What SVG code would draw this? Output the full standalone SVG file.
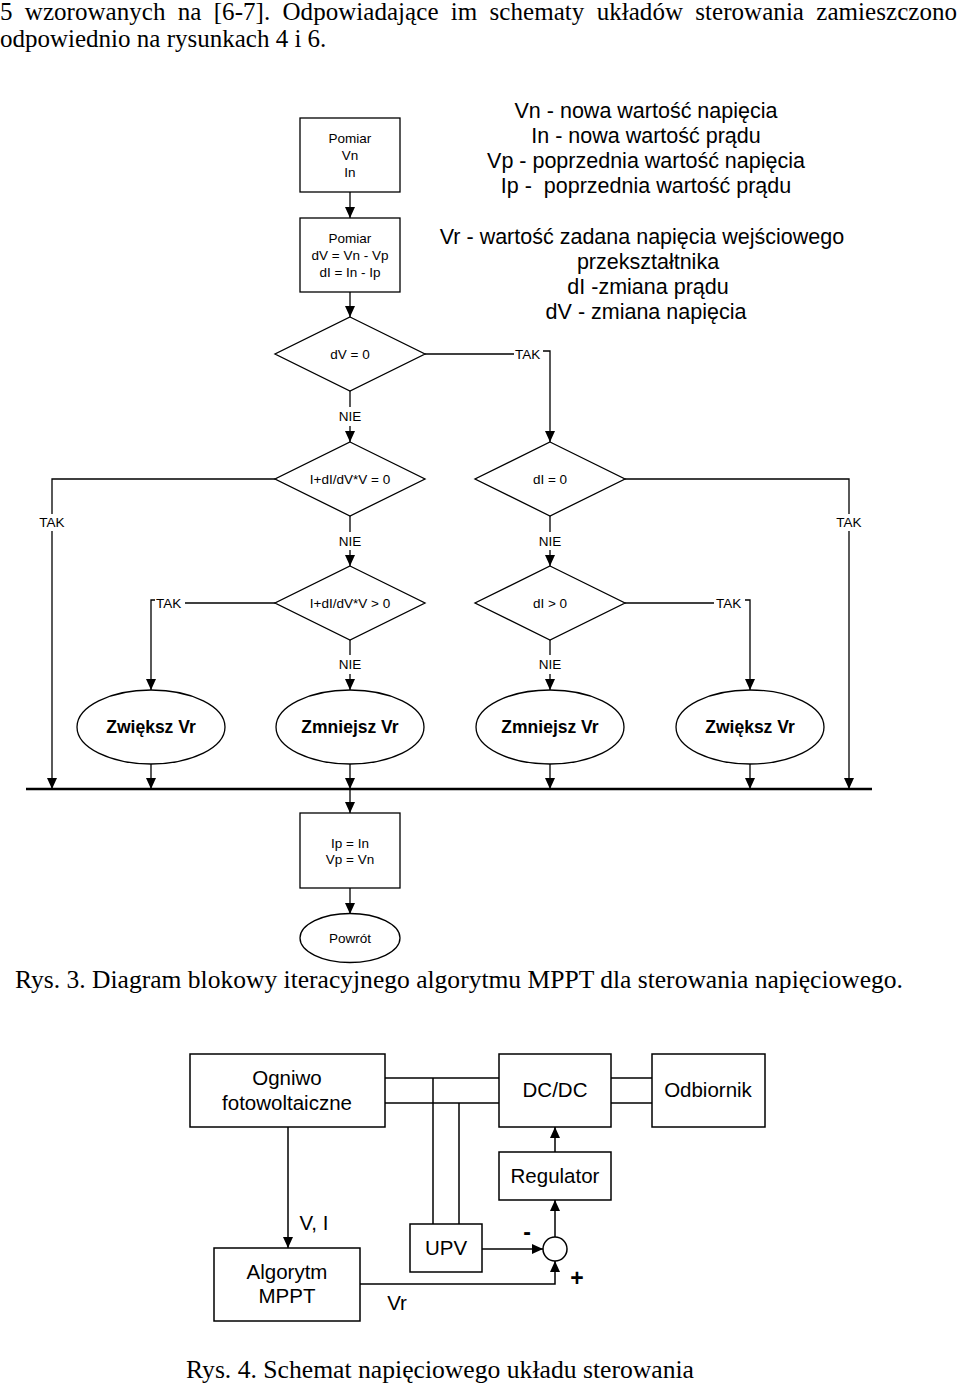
<svg xmlns="http://www.w3.org/2000/svg" width="960" height="1387" viewBox="0 0 960 1387">
<defs>
<style>
.ln{fill:none;stroke:#000;stroke-width:1.3}
.lb{fill:none;stroke:#000;stroke-width:1.5}
.sh{fill:#fff;stroke:#000;stroke-width:1.3}
.shb{fill:#fff;stroke:#000;stroke-width:1.5}
.t{font-family:"Liberation Sans",Arial,sans-serif;font-size:13.5px;text-anchor:middle;fill:#000}
.tl{font-family:"Liberation Sans",Arial,sans-serif;font-size:13.5px;fill:#000}
.tb{font-family:"Liberation Sans",Arial,sans-serif;font-size:17.5px;font-weight:bold;text-anchor:middle;fill:#000}
.lg{font-family:"Liberation Sans",Arial,sans-serif;font-size:21.5px;text-anchor:middle;fill:#000}
.bd{font-family:"Liberation Sans",Arial,sans-serif;font-size:20.5px;text-anchor:middle;fill:#000}
.sg{font-family:"Liberation Sans",Arial,sans-serif;font-size:23px;font-weight:bold;text-anchor:middle;fill:#000}
.sf{font-family:"Liberation Serif","Times New Roman",serif;font-size:25px;fill:#000}
</style>
<marker id="ah" markerWidth="11" markerHeight="10" refX="11" refY="5" orient="auto" markerUnits="userSpaceOnUse">
<path d="M0,0 L11,5 L0,10 z" fill="#000"/>
</marker>
</defs>
<rect width="960" height="1387" fill="#fff"/>

<!-- header text -->
<text class="sf" x="0" y="20" textLength="957" lengthAdjust="spacing" word-spacing="6">5 wzorowanych na [6-7]. Odpowiadające im schematy układów sterowania zamieszczono</text>
<text class="sf" x="0" y="47">odpowiednio na rysunkach 4 i 6.</text>

<!-- legend -->
<g id="legend">
<text class="lg" x="646" y="118">Vn - nowa wartość napięcia</text>
<text class="lg" x="646" y="143">In - nowa wartość prądu</text>
<text class="lg" x="646" y="168">Vp - poprzednia wartość napięcia</text>
<text class="lg" x="646" y="193" xml:space="preserve">Ip -  poprzednia wartość prądu</text>
<text class="lg" x="642" y="244">Vr - wartość zadana napięcia wejściowego</text>
<text class="lg" x="648" y="269">przekształtnika</text>
<text class="lg" x="648" y="294">dI -zmiana prądu</text>
<text class="lg" x="646" y="319">dV - zmiana napięcia</text>
</g>

<!-- flowchart connectors -->
<g id="connectors">
<line class="ln" x1="350" y1="192" x2="350" y2="218" marker-end="url(#ah)"/>
<line class="ln" x1="350" y1="292" x2="350" y2="317" marker-end="url(#ah)"/>
<line class="ln" x1="425" y1="354" x2="514" y2="354"/>
<path class="ln" d="M543,351 H550 V442" marker-end="url(#ah)"/>
<line class="ln" x1="350" y1="391" x2="350" y2="407"/>
<line class="ln" x1="350" y1="426" x2="350" y2="442" marker-end="url(#ah)"/>
<path class="ln" d="M275,479 H52 V514"/>
<line class="ln" x1="52" y1="531" x2="52" y2="789" marker-end="url(#ah)"/>
<path class="ln" d="M625,479 H849 V514"/>
<line class="ln" x1="849" y1="531" x2="849" y2="789" marker-end="url(#ah)"/>
<line class="ln" x1="350" y1="516" x2="350" y2="532"/>
<line class="ln" x1="350" y1="550" x2="350" y2="566" marker-end="url(#ah)"/>
<line class="ln" x1="550" y1="516" x2="550" y2="532"/>
<line class="ln" x1="550" y1="550" x2="550" y2="566" marker-end="url(#ah)"/>
<line class="ln" x1="275" y1="603" x2="185" y2="603"/>
<path class="ln" d="M155,600 H151 V690" marker-end="url(#ah)"/>
<line class="ln" x1="625" y1="603" x2="714" y2="603"/>
<path class="ln" d="M745,600 H750 V690" marker-end="url(#ah)"/>
<line class="ln" x1="350" y1="640" x2="350" y2="655"/>
<line class="ln" x1="350" y1="674" x2="350" y2="690" marker-end="url(#ah)"/>
<line class="ln" x1="550" y1="640" x2="550" y2="655"/>
<line class="ln" x1="550" y1="674" x2="550" y2="690" marker-end="url(#ah)"/>
<line class="ln" x1="151" y1="764" x2="151" y2="789" marker-end="url(#ah)"/>
<line class="ln" x1="350" y1="764" x2="350" y2="789" marker-end="url(#ah)"/>
<line class="ln" x1="550" y1="764" x2="550" y2="789" marker-end="url(#ah)"/>
<line class="ln" x1="750" y1="764" x2="750" y2="789" marker-end="url(#ah)"/>
<line x1="26" y1="789" x2="872" y2="789" stroke="#000" stroke-width="2.5"/>
<line class="ln" x1="350" y1="790" x2="350" y2="813" marker-end="url(#ah)"/>
<line class="ln" x1="350" y1="888" x2="350" y2="914" marker-end="url(#ah)"/>
<text class="tl" x="515" y="359">TAK</text>
<text class="t" x="350" y="421">NIE</text>
<text class="t" x="52" y="527">TAK</text>
<text class="t" x="849" y="527">TAK</text>
<text class="t" x="350" y="546">NIE</text>
<text class="t" x="550" y="546">NIE</text>
<text class="tl" x="156" y="608">TAK</text>
<text class="tl" x="716" y="608">TAK</text>
<text class="t" x="350" y="669">NIE</text>
<text class="t" x="550" y="669">NIE</text>
</g>

<!-- flowchart nodes -->
<g id="pomiar1">
<rect class="sh" x="300" y="118" width="100" height="74"/>
<text class="t" x="350" y="143">Pomiar</text>
<text class="t" x="350" y="160">Vn</text>
<text class="t" x="350" y="177">In</text>
</g>
<g id="pomiar2">
<rect class="sh" x="300" y="218" width="100" height="74"/>
<text class="t" x="350" y="243">Pomiar</text>
<text class="t" x="350" y="260">dV = Vn - Vp</text>
<text class="t" x="350" y="277">dI = In - Ip</text>
</g>
<g id="dec_dv0">
<polygon class="sh" points="350,317 425,354 350,391 275,354"/>
<text class="t" x="350" y="359">dV = 0</text>
</g>
<g id="dec_cond0">
<polygon class="sh" points="350,442 425,479 350,516 275,479"/>
<text class="t" x="350" y="484">I+dI/dV*V = 0</text>
</g>
<g id="dec_di0">
<polygon class="sh" points="550,442 625,479 550,516 475,479"/>
<text class="t" x="550" y="484">dI = 0</text>
</g>
<g id="dec_condgt">
<polygon class="sh" points="350,566 425,603 350,640 275,603"/>
<text class="t" x="350" y="608">I+dI/dV*V &gt; 0</text>
</g>
<g id="dec_digt">
<polygon class="sh" points="550,566 625,603 550,640 475,603"/>
<text class="t" x="550" y="608">dI &gt; 0</text>
</g>
<g id="zwieksz1">
<ellipse class="sh" cx="151" cy="727" rx="74" ry="37"/>
<text class="tb" x="151" y="733">Zwiększ Vr</text>
</g>
<g id="zmniejsz1">
<ellipse class="sh" cx="350" cy="727" rx="74" ry="37"/>
<text class="tb" x="350" y="733">Zmniejsz Vr</text>
</g>
<g id="zmniejsz2">
<ellipse class="sh" cx="550" cy="727" rx="74" ry="37"/>
<text class="tb" x="550" y="733">Zmniejsz Vr</text>
</g>
<g id="zwieksz2">
<ellipse class="sh" cx="750" cy="727" rx="74" ry="37"/>
<text class="tb" x="750" y="733">Zwiększ Vr</text>
</g>
<g id="update">
<rect class="sh" x="300" y="813" width="100" height="75"/>
<text class="t" x="350" y="848">Ip = In</text>
<text class="t" x="350" y="864">Vp = Vn</text>
</g>
<g id="powrot">
<ellipse class="sh" cx="350" cy="938" rx="50" ry="24.5"/>
<text class="t" x="350" y="943">Powrót</text>
</g>

<text class="sf" x="15" y="988" textLength="888" lengthAdjust="spacingAndGlyphs">Rys. 3. Diagram blokowy iteracyjnego algorytmu MPPT dla sterowania napięciowego.</text>

<!-- block diagram connectors -->
<g id="bd_connectors">
<line class="lb" x1="385" y1="1078" x2="499" y2="1078"/>
<line class="lb" x1="385" y1="1103" x2="499" y2="1103"/>
<line class="lb" x1="611" y1="1078" x2="652" y2="1078"/>
<line class="lb" x1="611" y1="1103" x2="652" y2="1103"/>
<line class="lb" x1="433" y1="1078" x2="433" y2="1224"/>
<line class="lb" x1="459" y1="1103" x2="459" y2="1224"/>
<line class="lb" x1="555" y1="1152" x2="555" y2="1127" marker-end="url(#ah)"/>
<line class="lb" x1="555" y1="1237" x2="555" y2="1200" marker-end="url(#ah)"/>
<line class="lb" x1="482" y1="1249" x2="543" y2="1249" marker-end="url(#ah)"/>
<path class="lb" d="M360,1284 H555 V1261" marker-end="url(#ah)"/>
<line class="lb" x1="288" y1="1127" x2="288" y2="1248" marker-end="url(#ah)"/>
<text class="bd" x="314" y="1230">V, I</text>
<text class="sg" x="527" y="1240">-</text>
<text class="sg" x="577" y="1286">+</text>
<text class="bd" x="397" y="1310">Vr</text>
</g>

<!-- block diagram nodes -->
<g id="ogniwo">
<rect class="shb" x="190" y="1054" width="195" height="73"/>
<text class="bd" x="287" y="1085">Ogniwo</text>
<text class="bd" x="287" y="1110">fotowoltaiczne</text>
</g>
<g id="dcdc">
<rect class="shb" x="499" y="1054" width="112" height="73"/>
<text class="bd" x="555" y="1097">DC/DC</text>
</g>
<g id="odbiornik">
<rect class="shb" x="652" y="1054" width="113" height="73"/>
<text class="bd" x="708" y="1097">Odbiornik</text>
</g>
<g id="regulator">
<rect class="shb" x="499" y="1152" width="112" height="48"/>
<text class="bd" x="555" y="1183">Regulator</text>
</g>
<g id="upv">
<rect class="shb" x="410" y="1224" width="72" height="48"/>
<text class="bd" x="446" y="1255">UPV</text>
</g>
<g id="sumator">
<circle class="shb" cx="555" cy="1249" r="12"/>
</g>
<g id="mppt">
<rect class="shb" x="214" y="1248" width="146" height="73"/>
<text class="bd" x="287" y="1279">Algorytm</text>
<text class="bd" x="287" y="1303">MPPT</text>
</g>

<text class="sf" x="186" y="1378" textLength="508" lengthAdjust="spacingAndGlyphs">Rys. 4. Schemat napięciowego układu sterowania</text>
</svg>
